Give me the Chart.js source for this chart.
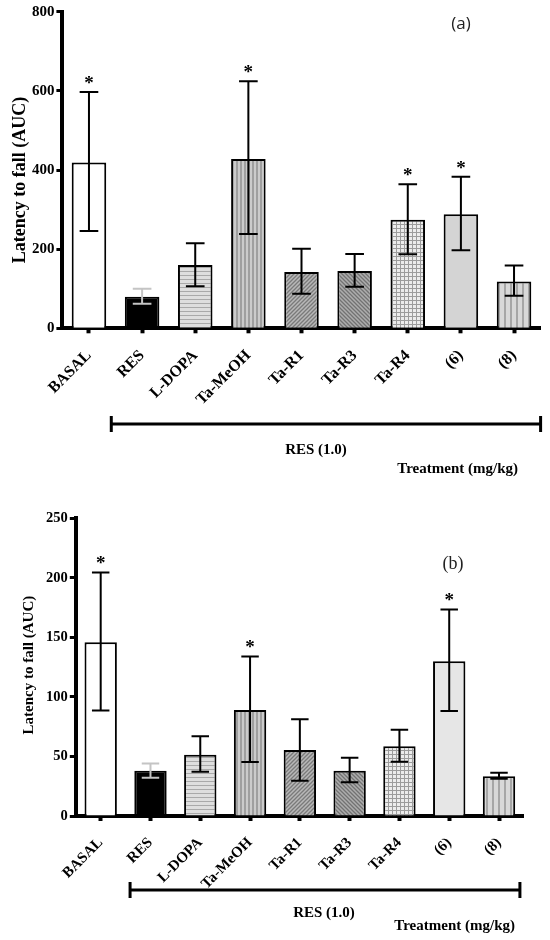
<!DOCTYPE html>
<html><head><meta charset="utf-8">
<script src="https://cdn.jsdelivr.net/npm/chart.js@4"></script>
<style>
html,body{margin:0;padding:0;background:#fff;width:550px;height:940px;overflow:hidden}
#wa{position:absolute;left:0;top:0;width:550px;height:490px}
#wb{position:absolute;left:0;top:490px;width:550px;height:450px}
</style></head><body>
<div id="wa"><canvas id="ca"></canvas></div>
<div id="wb"><canvas id="cb"></canvas></div>
<script>
// ---- data ----
const categories = ['BASAL','RES','L-DOPA','Ta-MeOH','Ta-R1','Ta-R3','Ta-R4','(6)','(8)'];
// panel (a)
const meanA = [419, 80, 160, 428, 142, 145, 274, 288, 118];
const lowA  = [246, 62, 106, 238, 87, 105, 187, 197, 82];
const highA = [597, 100, 215, 624, 201, 188, 364, 383, 159];
const sigA  = [1, 0, 0, 1, 0, 0, 1, 1, 0];
const ticksA = [0, 200, 400, 600, 800];
// panel (b)
const meanB = [146, 38, 51.5, 89, 55.5, 38, 58.5, 130, 33.3];
const lowB  = [88.5, 32.2, 37.2, 45.3, 29.6, 28.3, 45.6, 88.2, 31.3];
const highB = [204.5, 44, 67, 134, 81.2, 49, 72.5, 173.5, 36.4];
const sigB  = [1, 0, 0, 1, 0, 0, 0, 1, 0];
const ticksB = [0, 50, 100, 150, 200, 250];

const SERIF = '"Liberation Serif","Times New Roman",serif';

function tile(ctx, w, h, draw){
  const c = document.createElement('canvas'); c.width = w; c.height = h;
  const g = c.getContext('2d'); draw(g, w, h);
  return ctx.createPattern(c, 'repeat');
}
function fills(ctx, sixColor){
  const hStripe = tile(ctx,1,4,(g)=>{g.fillStyle='#dedede';g.fillRect(0,0,1,4);g.fillStyle='#a9a9a9';g.fillRect(0,3,1,1);});
  const vStripe = tile(ctx,4,1,(g)=>{g.fillStyle='#cbcbcb';g.fillRect(0,0,4,1);g.fillStyle='#9f9f9f';g.fillRect(0,0,2,1);});
  const diag = (bg,fg,dir)=>tile(ctx,4,4,(g,w,h)=>{
    g.fillStyle=bg;g.fillRect(0,0,w,h);g.strokeStyle=fg;g.lineWidth=1.3;g.beginPath();
    if(dir>0){g.moveTo(-1,5);g.lineTo(5,-1);g.moveTo(-1,1);g.lineTo(1,-1);g.moveTo(3,5);g.lineTo(5,3);}
    else{g.moveTo(-1,-1);g.lineTo(5,5);g.moveTo(3,-1);g.lineTo(5,1);g.moveTo(-1,3);g.lineTo(1,5);}
    g.stroke();});
  const grid = tile(ctx,4,4,(g)=>{g.fillStyle='#ececec';g.fillRect(0,0,4,4);g.fillStyle='#9c9c9c';g.fillRect(0,0,4,1);g.fillRect(0,0,1,4);});
  const wide = tile(ctx,6,1,(g)=>{g.fillStyle='#d8d8d8';g.fillRect(0,0,6,1);g.fillStyle='#a6a6a6';g.fillRect(0,0,2,1);});
  return ['#ffffff','#000000',hStripe,vStripe,diag('#b8b8b8','#7a7a7a',1),diag('#adadad','#727272',-1),grid,sixColor,wide];
}

function overlay(cfg){
  return {
    id: 'ov',
    afterDatasetsDraw(chart){
      const ctx = chart.ctx, xs = chart.scales.x, ys = chart.scales.y, meta = chart.getDatasetMeta(0);
      ctx.save();
      cfg.low.forEach((lo, i)=>{
        const x = xs.getPixelForValue(i);
        const cap = meta.data[i].width * 0.27;
        const yl = ys.getPixelForValue(lo), yh = ys.getPixelForValue(cfg.high[i]);
        ctx.strokeStyle = i === 1 ? '#c4c4c4' : '#000';
        ctx.lineWidth = 2;
        ctx.beginPath();
        ctx.moveTo(x, yl); ctx.lineTo(x, yh);
        ctx.moveTo(x-cap, yh); ctx.lineTo(x+cap, yh);
        ctx.moveTo(x-cap, yl); ctx.lineTo(x+cap, yl);
        ctx.stroke();
        if (cfg.sig[i]) {
          ctx.fillStyle = '#000'; ctx.font = 'bold 19px ' + SERIF;
          ctx.textAlign = 'center'; ctx.textBaseline = 'alphabetic';
          ctx.fillText('*', x, yh - 3);
        }
      });
      ctx.restore();
    },
    afterDraw(chart){
      const ctx = chart.ctx, xs = chart.scales.x, ys = chart.scales.y;
      ctx.save();
      // bracket
      const bl = xs.getPixelForValue(cfg.bFrom), br = xs.getPixelForValue(cfg.bTo), by = cfg.bracketY;
      ctx.strokeStyle = '#000'; ctx.lineWidth = 3;
      ctx.beginPath();
      ctx.moveTo(bl, by); ctx.lineTo(br, by);
      ctx.moveTo(bl, by-8); ctx.lineTo(bl, by+8);
      ctx.moveTo(br, by-8); ctx.lineTo(br, by+8);
      ctx.stroke();
      ctx.fillStyle = '#000';
      ctx.font = 'bold 15px ' + SERIF; ctx.textBaseline = 'middle';
      ctx.textAlign = 'center'; ctx.fillText('RES (1.0)', cfg.resX, cfg.resY);
      ctx.textAlign = 'right'; ctx.fillText('Treatment (mg/kg)', cfg.trX, cfg.trY);
      // y title
      ctx.save();
      ctx.translate(cfg.titleX, (ys.top + ys.bottom)/2 + cfg.titleDy);
      ctx.rotate(-Math.PI/2);
      ctx.font = 'bold ' + cfg.titleSize + 'px ' + SERIF; ctx.textAlign = 'center'; ctx.textBaseline = 'middle';
      ctx.fillText('Latency to fall (AUC)', 0, 0);
      ctx.restore();
      // panel letter
      ctx.font = cfg.letterFont; ctx.fillStyle = '#222'; ctx.textAlign = 'center'; ctx.textBaseline = 'middle';
      ctx.fillText(cfg.letter, cfg.letterX, cfg.letterY);
      ctx.restore();
    }
  };
}

function makeChart(id, mean, low, high, sig, ticks, p){
  const canvas = document.getElementById(id);
  const ctx = canvas.getContext('2d');
  return new Chart(canvas, {
    type: 'bar',
    data: { labels: categories, datasets: [{ data: mean, backgroundColor: fills(ctx, p.six), borderColor: '#000', borderWidth: 2,
      barPercentage: 0.65, categoryPercentage: 1.0 }] },
    options: {
      responsive: true, maintainAspectRatio: false, animation: false, devicePixelRatio: 1,
      layout: { padding: { top: p.padTop, right: p.padRight, left: 0, bottom: 0 } },
      plugins: { legend: { display: false }, tooltip: { enabled: false } },
      scales: {
        x: {
          offset: true,
          afterFit: (s)=>{ s.height = p.xh; },
          border: { display: true, color: '#000', width: 4 },
          grid: { display: true, offset: false, drawOnChartArea: false, drawTicks: true, tickLength: 5, tickWidth: 4, tickColor: '#000' },
          ticks: { autoSkip: false, maxRotation: 45, minRotation: 45, color: '#000', padding: p.xpad,
            font: { family: SERIF, size: p.xtSize, weight: 'bold' } }
        },
        y: {
          min: 0, max: ticks[ticks.length-1],
          afterFit: (s)=>{ s.width = p.yw; },
          afterBuildTicks: (s)=>{ s.ticks = ticks.map(v=>({value: v})); },
          border: { display: true, color: '#000', width: 4 },
          grid: { display: true, drawOnChartArea: false, drawTicks: true, tickLength: 6, tickWidth: 3, tickColor: '#000' },
          ticks: { color: '#000', padding: 2, font: { family: SERIF, size: p.ytSize, weight: 'bold' } }
        }
      }
    },
    plugins: [overlay({ low, high, sig, bracketY: p.bracketY, bFrom: p.bFrom, bTo: p.bTo, resX: p.resX, resY: p.resY, trX: p.trX, trY: p.trY,
      titleX: p.titleX, titleDy: p.titleDy, titleSize: p.titleSize, letter: p.letter, letterX: p.letterX, letterY: p.letterY, letterFont: p.letterFont })]
  });
}

makeChart('ca', meanA, lowA, highA, sigA, ticksA, {
  six: '#d4d4d4', padTop: 11.7, padRight: 9.4, xh: 161.7, yw: 62.4, xpad: 13, xtSize: 16, ytSize: 15,
  bracketY: 424, bFrom: 0.42, bTo: 8.5, resX: 316, resY: 450, trX: 518, trY: 469,
  titleX: 20, titleDy: 10, titleSize: 18, letter: '(a)', letterX: 461, letterY: 24, letterFont: '17px "Open Sans", sans-serif'
});
makeChart('cb', meanB, lowB, highB, sigB, ticksB, {
  six: '#e6e6e6', padTop: 28.3, padRight: 26.1, xh: 124, yw: 75.8, xpad: 13, xtSize: 15, ytSize: 14.5,
  bracketY: 400, bFrom: 0.59, bTo: 8.42, resX: 324, resY: 423, trX: 515, trY: 436,
  titleX: 29, titleDy: -2, titleSize: 15, letter: '(b)', letterX: 453, letterY: 74, letterFont: '18px "Liberation Serif", serif'
});
</script>
</body></html>
